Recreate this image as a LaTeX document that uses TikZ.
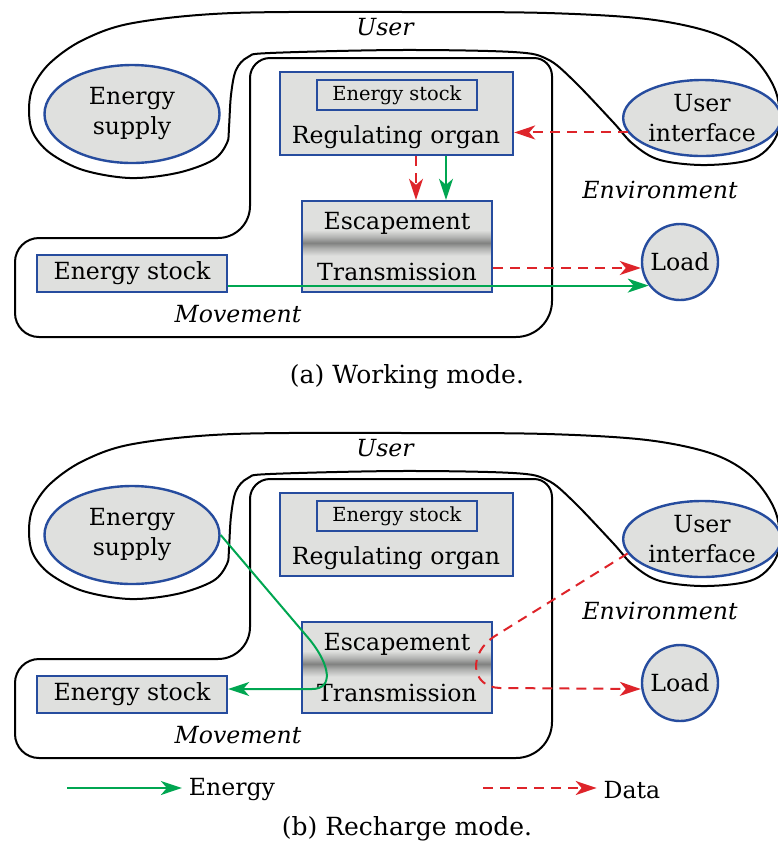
\documentclass[tikz,border=0pt]{standalone}
\usepackage{fontspec}
\setmainfont{DejaVu Serif}
\usetikzlibrary{arrows.meta,positioning,calc,shapes.geometric}

\definecolor{frameblue}{RGB}{38,76,158}
\definecolor{boxgray}{RGB}{223,224,222}
\definecolor{bandgray}{RGB}{128,129,128}
\definecolor{energygreen}{RGB}{0,166,81}
\definecolor{datared}{RGB}{222,36,42}
\colorlet{bandmid}{bandgray!50!boxgray}

% darker stripe across the middle of the escapement block
\pgfdeclareverticalshading{escband}{100bp}{color(0bp)=(boxgray); color(45bp)=(boxgray);
  color(49bp)=(bandmid); color(52bp)=(bandgray); color(55bp)=(bandmid);
  color(59bp)=(boxgray); color(100bp)=(boxgray)}

\newcommand{\bodysize}{\fontsize{11.8}{15}\selectfont}
\newcommand{\innersize}{\fontsize{9.7}{11}\selectfont}
\newcommand{\capsize}{\fontsize{12.5}{15}\selectfont}

\tikzset{
  blob/.style={draw=black,line width=1pt},
  unit/.style={rectangle,draw=frameblue,fill=boxgray,line width=1.2pt,inner sep=1pt},
  orb/.style={ellipse,draw=frameblue,fill=boxgray,line width=1.2pt,inner sep=1pt,align=center},
  escbox/.style={unit,shading=escband,align=center,minimum width=95pt,minimum height=45.5pt},
  energy/.style={line width=1pt,energygreen,-{Stealth[length=10.5pt,width=7pt,inset=3pt]}},
  data/.style={line width=1pt,datared,dash pattern=on 5pt off 3.5pt,-{Stealth[length=10.5pt,width=7pt,inset=3pt]}},
  zone/.style={font=\bodysize\itshape},
  caption/.style={font=\capsize},
  every node/.style={font=\bodysize}
}

% both panels share the same frame; #1 tags the node names
\newcommand{\watchframe}[1]{%
  % user
  \draw[blob] plot[smooth cycle,tension=0.55] coordinates {
    (233,13) (413,12) (547,13) (647,19) (713,33) (752,56) (776,92) (778,132)
    (755,158) (707,165) (660,160) (633,144) (613,122) (573,80) (547,59)
    (513,52) (400,50) (270,53) (248,57) (236,70) (231,95) (229,127) (227,143)
    (213,160) (177,173) (130,178) (83,170) (50,153) (33,133) (29,110) (33,87)
    (50,63) (83,40) (133,23)};
  % movement
  \draw[blob] (400,58) [rounded corners=9pt] -- (552,58) [rounded corners=18pt] -- (552,337)
    [rounded corners=12pt] -- (15,337) -- (15,238) [rounded corners=16pt] -- (250,238)
    [rounded corners=10pt] -- (250,58) -- cycle;
  \node[zone] (user#1) at (385,27) {User};
  \node[zone] (env#1) at (660,190) {Environment};
  \node[zone] (mvt#1) at (238,314) {Movement};

  \node[orb,minimum width=87.5pt,minimum height=49pt] (supply#1) at (132,114) {Energy\\supply};
  \node[orb,minimum width=75pt,minimum height=38pt] (ui#1) at (702,118) {User\\interface};
  \node[orb,circle,minimum size=38pt] (load#1) at (680,262) {Load};

  \node[unit,minimum width=116.5pt,minimum height=41.5pt] (reg#1) at (396.5,113.5) {};
  \node[unit,font=\innersize,minimum width=80pt,minimum height=15pt] (regstock#1) at (397,95) {Energy stock};
  \node (regtext#1) at (396,137) {Regulating organ};
  \node[escbox] (esc#1) at (397,246.5) {Escapement\\[10.5pt]Transmission};
  \node[unit,minimum width=95pt,minimum height=18.5pt] (stock#1) at (132,273.5) {Energy stock};
}

\begin{document}
\begin{tikzpicture}[x=0.5pt,y=-0.5pt]
  \useasboundingbox (0,0) rectangle (778,843);

  % (a) working mode
  \watchframe{a}
  \draw[data] (uia.191) -- (uia.191 -| rega.east);
  \draw[data] ([xshift=9.75pt]rega.south) -- ([xshift=9.75pt]rega.south |- esca.north);
  \draw[energy] ([xshift=24.75pt]rega.south) -- ([xshift=24.75pt]rega.south |- esca.north);
  \draw[data] ([yshift=-3pt]loada.west -| esca.east) -- ([yshift=-3pt]loada.west);
  \draw[energy] (loada.217 -| stocka.east) -- (loada.217);
  \node[caption] (capa) at (407,377) {(a) Working mode.};

  % (b) recharge mode
  \begin{scope}[shift={(0,421)}]
    \watchframe{b}
    \draw[energy] (supplyb.east) -- (310,219) .. controls (330,244) and (334,268) .. (312,268)
      -- ([yshift=2.75pt]stockb.east);
    \draw[data] (uib.191) -- (495,215) .. controls (468,232) and (470,266) .. (500,267)
      -- ([yshift=-3pt]loadb.west);
    \node[caption] (capb) at (407,408) {(b) Recharge mode.};
  \end{scope}

  % legend
  \node (enlab) at (232,790) {Energy};
  \node (datalab) at (632,790) {Data};
  \coordinate (enstart) at (67,788);
  \coordinate (datastart) at (483,788);
  \draw[energy] (enstart) -- (enstart -| enlab.west);
  \draw[data] (datastart) -- (datastart -| datalab.west);
\end{tikzpicture}
\end{document}
